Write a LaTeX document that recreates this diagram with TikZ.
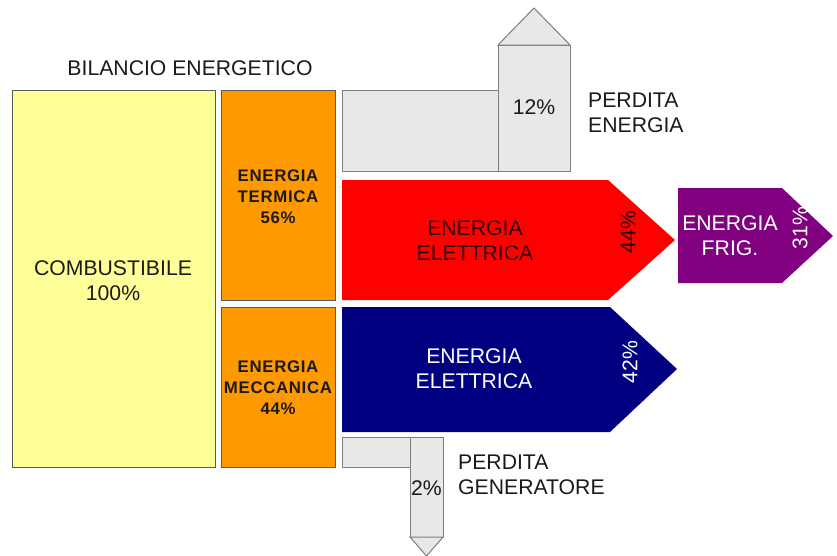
\documentclass[tikz,border=0pt]{standalone}
\usepackage{fontspec}
\setmainfont{Liberation Sans}
\definecolor{yel}{HTML}{FFFF99}
\definecolor{ora}{HTML}{FF9900}
\definecolor{redA}{HTML}{FF0000}
\definecolor{bluA}{HTML}{000080}
\definecolor{purA}{HTML}{800080}
\definecolor{grayF}{HTML}{E8E8E8}
\definecolor{grayB}{HTML}{7F7F7F}
\definecolor{boxB}{HTML}{5A5A5A}
\definecolor{darkT}{HTML}{300000}
\definecolor{txt}{HTML}{1A1A1A}
\tikzset{
  box/.style={draw=boxB, line width=1pt},
  loss/.style={fill=grayF, draw=grayB, line width=1pt, line join=miter},
  lbl/.style={font=\fontsize{21.2}{25}\selectfont, text=txt, align=center, inner sep=0pt},
  blbl/.style={font=\fontsize{16.8}{21}\selectfont\bfseries\addfontfeatures{LetterSpace=4}, text=txt, align=center, inner sep=0pt},
  llbl/.style={font=\fontsize{21.2}{25.5}\selectfont, text=txt, align=left, inner sep=0pt, anchor=west},
}
\begin{document}
\begin{tikzpicture}[x=1pt, y=-1pt]
\useasboundingbox (0,0) rectangle (837,555);
% title
\node[lbl] (title) at (190,68) {BILANCIO ENERGETICO};
% fuel
\draw[box, fill=yel] (12,90) rectangle (215,467);
\node[lbl] (comb) at (113,281) {COMBUSTIBILE\\100\%};
% orange boxes
\draw[box, fill=ora] (221,90) rectangle (335,300);
\draw[box, fill=ora] (221,307) rectangle (335,467);
\node[blbl] (term) at (278,197) {ENERGIA\\TERMICA\\56\%};
\node[blbl] (mecc) at (278,388) {ENERGIA\\MECCANICA\\44\%};
% top loss
\draw[loss] (342,90) rectangle (498,171);
\draw[loss] (498,45) rectangle (570,171);
\draw[loss] (498,45) -- (534,8) -- (570,45) -- cycle;
\node[lbl] (p12) at (534,107) {12\%};
\node[llbl] (perdE) at (588,113) {PERDITA\\ENERGIA};
% red arrow
\fill[redA] (342,180) -- (608,180) -- (675,240) -- (608,300) -- (342,300) -- cycle;
\node[lbl, text=darkT] (eeR) at (475,241) {ENERGIA\\ELETTRICA};
\node[lbl, text=darkT, rotate=90] (p44) at (628,232) {44\%};
% blue arrow
\fill[bluA] (342,307) -- (610,307) -- (677,369) -- (610,432) -- (342,432) -- cycle;
\node[lbl, text=white] (eeB) at (474,369) {ENERGIA\\ELETTRICA};
\node[lbl, text=white, rotate=90] (p42) at (630,362) {42\%};
% purple arrow
\fill[purA] (678,188) -- (782,188) -- (833,236) -- (782,283) -- (678,283) -- cycle;
\node[lbl, text=white] (frig) at (730,236) {ENERGIA\\FRIG.};
\node[lbl, text=white, rotate=90] (p31) at (800,228) {31\%};
% bottom loss
\draw[loss] (342,437) rectangle (410,467);
\draw[loss] (410,437) rectangle (443,537);
\draw[loss] (410,537) -- (426.5,556) -- (443,537) -- cycle;
\node[lbl] (p2) at (426.5,488) {2\%};
\node[llbl] (perdG) at (458,475) {PERDITA\\GENERATORE};
\end{tikzpicture}
\end{document}
